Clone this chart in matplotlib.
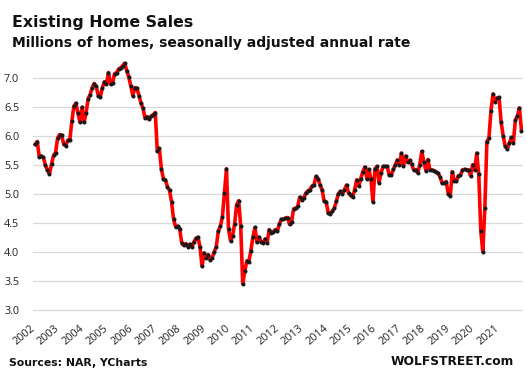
import matplotlib
matplotlib.use("Agg")
import matplotlib.pyplot as plt
import numpy as np

# Existing home sales, millions, SAAR, monthly Jan 2002 - Dec 2021
sales = [
    5.86, 5.91, 5.64, 5.66, 5.64, 5.50, 5.42, 5.35, 5.52, 5.67, 5.72, 5.97,  # 2002
    6.03, 6.02, 5.86, 5.84, 5.93, 5.93, 6.26, 6.52, 6.57, 6.40, 6.24, 6.50,  # 2003
    6.24, 6.40, 6.65, 6.72, 6.84, 6.91, 6.86, 6.70, 6.68, 6.84, 6.94, 6.90,  # 2004
    7.10, 6.90, 6.92, 7.08, 7.10, 7.16, 7.18, 7.22, 7.26, 7.13, 7.02, 6.86,  # 2005
    6.70, 6.84, 6.83, 6.70, 6.57, 6.48, 6.31, 6.34, 6.29, 6.35, 6.37, 6.41,  # 2006
    5.74, 5.79, 5.44, 5.27, 5.25, 5.13, 5.07, 4.87, 4.57, 4.44, 4.45, 4.41,  # 2007
    4.16, 4.12, 4.15, 4.10, 4.14, 4.09, 4.18, 4.24, 4.26, 4.09, 3.76, 3.99,  # 2008
    3.90, 3.96, 3.87, 3.91, 4.01, 4.10, 4.37, 4.45, 4.61, 5.02, 5.44, 4.40,  # 2009
    4.20, 4.28, 4.49, 4.82, 4.89, 4.45, 3.45, 3.68, 3.85, 3.84, 4.03, 4.26,  # 2010
    4.43, 4.17, 4.26, 4.18, 4.16, 4.23, 4.16, 4.39, 4.34, 4.35, 4.39, 4.36,  # 2011
    4.49, 4.57, 4.57, 4.59, 4.60, 4.48, 4.53, 4.75, 4.76, 4.79, 4.95, 4.91,  # 2012
    4.94, 5.02, 5.06, 5.08, 5.14, 5.16, 5.31, 5.27, 5.16, 5.08, 4.88, 4.87,  # 2013
    4.68, 4.66, 4.71, 4.76, 4.88, 5.01, 5.05, 5.01, 5.08, 5.16, 5.02, 4.98,  # 2014
    4.95, 5.08, 5.25, 5.14, 5.27, 5.39, 5.47, 5.27, 5.43, 5.27, 4.87, 5.44,  # 2015
    5.48, 5.20, 5.37, 5.48, 5.48, 5.48, 5.33, 5.33, 5.43, 5.51, 5.59, 5.51,  # 2016
    5.71, 5.48, 5.66, 5.55, 5.59, 5.52, 5.42, 5.42, 5.37, 5.51, 5.74, 5.56,  # 2017
    5.41, 5.60, 5.42, 5.42, 5.41, 5.39, 5.36, 5.30, 5.19, 5.19, 5.22, 5.01,  # 2018
    4.97, 5.39, 5.23, 5.23, 5.32, 5.33, 5.42, 5.43, 5.42, 5.42, 5.32, 5.51,  # 2019
    5.42, 5.71, 5.35, 4.37, 4.01, 4.77, 5.91, 5.97, 6.44, 6.73, 6.60, 6.66,  # 2020
    6.67, 6.24, 6.01, 5.83, 5.78, 5.88, 5.98, 5.89, 6.28, 6.35, 6.49, 6.10,  # 2021
]
years = list(range(2002, 2022))
y_ticks = [3.0, 3.5, 4.0, 4.5, 5.0, 5.5, 6.0, 6.5, 7.0]

plt.rcParams['font.family'] = ['Open Sans', 'DejaVu Sans']

fig = plt.figure(figsize=(5.27, 3.79), dpi=100)
ax = fig.add_axes([0.0626, 0.1736, 0.930, 0.681])

x = np.arange(len(sales))
ax.plot(x, sales, color="#FF0000", linewidth=2.6, solid_joinstyle="round", zorder=3)
ax.plot(x, sales, linestyle="none", marker="o", markersize=1.9,
        color="#1a1a1a", zorder=4)

ax.set_xlim(-1.1, 239.8)
ax.set_ylim(2.95, 7.4)
ax.set_yticks(y_ticks)
ax.set_yticklabels([f"{v:.1f}" for v in y_ticks])
ax.set_xticks([12 * k + 1 for k in range(len(years))])
ax.set_xticklabels([str(yr) for yr in years], rotation=40, ha="right")

ax.grid(axis="y", color="#d9d9d9", linewidth=0.9)
ax.set_axisbelow(True)
for s in ax.spines.values():
    s.set_visible(False)
ax.tick_params(axis="both", length=0, labelsize=7.8, colors="#222222")
ax.tick_params(axis="y", pad=10)
ax.tick_params(axis="x", pad=7)

titlefont = ["DejaVu Sans"]
fig.text(0.022, 0.928, "Existing Home Sales", fontsize=11.3, fontweight="bold",
         color="#111111", family=titlefont)
fig.text(0.022, 0.877, "Millions of homes, seasonally adjusted annual rate",
         fontsize=10, fontweight="bold", color="#111111", family=titlefont)
fig.text(0.017, 0.034, "Sources: NAR, YCharts", fontsize=7.8, fontweight="bold",
         color="#111111", family=titlefont)
fig.text(0.975, 0.036, "WOLFSTREET.com", fontsize=8.8, fontweight="bold",
         color="#111111", ha="right", family=titlefont)

fig.savefig("out.png", dpi=100)
